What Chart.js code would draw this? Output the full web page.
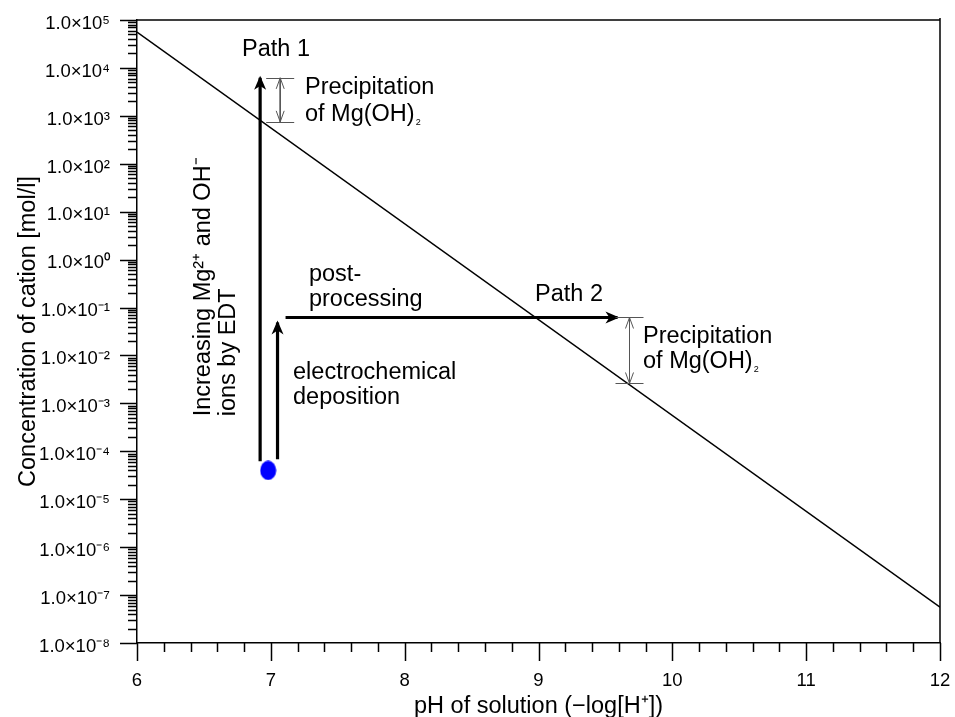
<!DOCTYPE html>
<html><head><meta charset="utf-8">
<script src="https://cdn.jsdelivr.net/npm/chart.js@4/dist/chart.umd.min.js"></script>
<style>html,body{margin:0;padding:0;background:#fff}#wrap{width:955px;height:717px}</style>
</head><body><div id="wrap"><canvas id="c" width="955" height="717"></canvas></div>
<script>
// ---- data ----
const xTickValues = [6, 7, 8, 9, 10, 11, 12];
const yTickExponents = [5, 4, 3, 2, 1, 0, -1, -2, -3, -4, -5, -6, -7, -8];
const solubilityPH = [6, 12];
const solubilityConc = [5.6e4, 5.6e-8];
const startPH = [6.98];
const startConc = [4.0e-5];
const path1PH = [6.92, 6.92];
const path1Conc = [6.2e-5, 6.2e3];
const depositionPH = [7.05, 7.05];
const depositionConc = [6.8e-5, 4.9e-2];
const postPH = [7.11, 9.59];
const postConc = [6.2e-2, 6.2e-2];
const precip1PH = [7.07, 7.07];
const precip1Conc = [6.2e3, 7.5e2];
const precip2PH = [9.68, 9.68];
const precip2Conc = [6.2e-2, 2.6e-3];

const FONT = "'Liberation Sans', Arial, sans-serif";
const SUP = {'0':'⁰','1':'¹','2':'²','3':'³','4':'⁴','5':'⁵','6':'⁶','7':'⁷','8':'⁸','9':'⁹','-':'⁻'};
function supStr(n){ return String(n).split('').map(c => SUP[c]).join(''); }
function pts(xs, ys){ return xs.map((x,i)=>({x:x, y:ys[i]})); }

// annotation texts (data coordinates: pH, log10 concentration)
const notes = [
  {t:'Path 1', x:6.785, ly:4.375},
  {t:'Precipitation', x:7.255, ly:3.583},
  {t:'of Mg(OH)', x:7.255, ly:3.021, sub:'2'},
  {t:'post-', x:7.285, ly:-0.3125},
  {t:'processing', x:7.285, ly:-0.833},
  {t:'electrochemical', x:7.166, ly:-2.354},
  {t:'deposition', x:7.166, ly:-2.875},
  {t:'Path 2', x:8.974, ly:-0.729},
  {t:'Precipitation', x:9.781, ly:-1.604},
  {t:'of Mg(OH)', x:9.781, ly:-2.125, sub:'2'},
  {t:'Increasing Mg²⁺ and OH⁻', x:6.50, ly:-3.27, rot:true},
  {t:'ions by EDT', x:6.687, ly:-3.27, rot:true}
];

// blue ellipse marker
const dot = document.createElement('canvas');
dot.width = 17; dot.height = 20;
{ const g = dot.getContext('2d'); g.fillStyle = '#0000ff'; g.beginPath(); g.ellipse(8.5, 10, 8, 9.7, 0, 0, Math.PI*2); g.fill(); }

const frameTicks = {
  id: 'frameTicks',
  afterDraw(chart){
    const ctx = chart.ctx, a = chart.chartArea, xs = chart.scales.x, ys = chart.scales.y;
    ctx.save();
    ctx.strokeStyle = '#000'; ctx.lineWidth = 1.5;
    ctx.beginPath();
    ctx.moveTo(a.left, a.top); ctx.lineTo(a.right, a.top);
    ctx.moveTo(a.right, a.top - 2); ctx.lineTo(a.right, a.bottom);
    ctx.stroke();
    ctx.beginPath();
    for (let e = -8; e <= 5; e++){
      const yp = Math.round(ys.getPixelForValue(Math.pow(10, e))) + 0.5;
      ctx.moveTo(a.left - 17, yp); ctx.lineTo(a.left, yp);
      if (e < 5){
        for (let k = 2; k <= 9; k++){
          const ym = Math.round(ys.getPixelForValue(k * Math.pow(10, e))) + 0.5;
          ctx.moveTo(a.left - 9, ym); ctx.lineTo(a.left, ym);
        }
      }
    }
    for (let i = 0; i <= 30; i++){
      const v = 6 + i * 0.2;
      const xp = Math.round(xs.getPixelForValue(v)) + 0.5;
      const len = (i % 5 === 0) ? 18 : 9;
      ctx.moveTo(xp, a.bottom); ctx.lineTo(xp, a.bottom + len);
    }
    ctx.stroke();
    ctx.restore();
  }
};

function arrowHead(ctx, x, y, dx, dy, len, hw){
  const L = Math.hypot(dx, dy); const ux = dx / L, uy = dy / L; const px = -uy, py = ux;
  const tx = x + ux * 2, ty = y + uy * 2;
  ctx.beginPath();
  ctx.moveTo(tx, ty);
  ctx.lineTo(tx - ux*len + px*hw, ty - uy*len + py*hw);
  ctx.lineTo(tx - ux*len*0.72, ty - uy*len*0.72);
  ctx.lineTo(tx - ux*len - px*hw, ty - uy*len - py*hw);
  ctx.closePath();
  ctx.fill();
}
function openHead(ctx, x, y, dx, dy, len, hw){
  const L = Math.hypot(dx, dy); const ux = dx / L, uy = dy / L; const px = -uy, py = ux;
  ctx.beginPath();
  ctx.moveTo(x - ux*len + px*hw, y - uy*len + py*hw);
  ctx.lineTo(x, y);
  ctx.lineTo(x - ux*len - px*hw, y - uy*len - py*hw);
  ctx.stroke();
}

const decorations = {
  id: 'decorations',
  afterDatasetsDraw(chart){
    const ctx = chart.ctx, xs = chart.scales.x, ys = chart.scales.y;
    ctx.save();
    chart.data.datasets.forEach((ds, i) => {
      const m = chart.getDatasetMeta(i);
      if (!ds.arrowKind) return;
      const p0 = m.data[0], p1 = m.data[m.data.length - 1];
      if (ds.arrowKind === 'solid'){
        ctx.fillStyle = '#000';
        arrowHead(ctx, p1.x, p1.y, p1.x - p0.x, p1.y - p0.y, 14, 6);
      } else if (ds.arrowKind === 'bracket'){
        ctx.strokeStyle = '#555'; ctx.lineWidth = 1;
        openHead(ctx, p0.x, p0.y, p0.x - p1.x, p0.y - p1.y, 11, 4);
        openHead(ctx, p1.x, p1.y, p1.x - p0.x, p1.y - p0.y, 11, 4);
        ctx.beginPath();
        [p0, p1].forEach(p => { const yy = Math.round(p.y) + 0.5; ctx.moveTo(p.x - 14, yy); ctx.lineTo(p.x + 14, yy); });
        ctx.stroke();
      }
    });
    ctx.fillStyle = '#000';
    ctx.textBaseline = 'middle';
    ctx.textAlign = 'left';
    notes.forEach(n => {
      const px = xs.getPixelForValue(n.x), py = ys.getPixelForValue(Math.pow(10, n.ly));
      ctx.font = '23.5px ' + FONT;
      if (n.rot){
        ctx.save(); ctx.translate(px, py); ctx.rotate(-Math.PI/2);
        ctx.fillText(n.t, 0, 0); ctx.restore();
      } else {
        ctx.fillText(n.t, px, py);
        if (n.sub){
          const w = ctx.measureText(n.t).width;
          ctx.font = '9px ' + FONT;
          ctx.fillText(n.sub, px + w + 1, py + 8);
        }
      }
    });
    ctx.restore();
  }
};

Chart.defaults.font.family = FONT;
Chart.defaults.color = '#000';

new Chart(document.getElementById('c'), {
  type: 'scatter',
  data: {
    datasets: [
      {data: pts(solubilityPH, solubilityConc), showLine: true, borderColor: '#000', borderWidth: 1.5, pointRadius: 0},
      {data: pts(path1PH, path1Conc), showLine: true, borderColor: '#000', borderWidth: 3.2, pointRadius: 0, arrowKind: 'solid'},
      {data: pts(depositionPH, depositionConc), showLine: true, borderColor: '#000', borderWidth: 3.2, pointRadius: 0, arrowKind: 'solid'},
      {data: pts(postPH, postConc), showLine: true, borderColor: '#000', borderWidth: 3.2, pointRadius: 0, arrowKind: 'solid'},
      {data: pts(precip1PH, precip1Conc), showLine: true, borderColor: '#555', borderWidth: 1, pointRadius: 0, arrowKind: 'bracket'},
      {data: pts(precip2PH, precip2Conc), showLine: true, borderColor: '#555', borderWidth: 1, pointRadius: 0, arrowKind: 'bracket'},
      {data: pts(startPH, startConc), pointStyle: dot, pointRadius: 10, backgroundColor: '#0000ff'}
    ]
  },
  options: {
    responsive: false,
    animation: false,
    devicePixelRatio: 1,
    events: [],
    layout: {padding: {top: 20, right: 15, bottom: 0, left: 0}},
    plugins: {legend: {display: false}, tooltip: {enabled: false}},
    scales: {
      x: {
        type: 'linear', min: 6, max: 12,
        afterBuildTicks: s => { s.ticks = xTickValues.map(v => ({value: v})); },
        afterFit: s => { s.height = 74; s.paddingLeft = 0; s.paddingRight = 0; },
        grid: {display: false},
        border: {display: true, color: '#000', width: 1.5},
        ticks: {font: {size: 18.5}, color: '#000', padding: 19, maxRotation: 0, autoSkip: false},
        title: {display: true, text: 'pH of solution (−log[H⁺])', font: {size: 23.5, lineHeight: 0.9}, color: '#000', padding: {top: 0, bottom: 0}}
      },
      y: {
        type: 'logarithmic', min: 1e-8, max: 1e5,
        afterBuildTicks: s => { s.ticks = yTickExponents.map(e => ({value: Math.pow(10, e)})); },
        afterFit: s => { s.width = 137; s.paddingTop = 0; s.paddingBottom = 0; },
        grid: {display: false},
        border: {display: true, color: '#000', width: 1.5},
        ticks: {
          font: {size: 18.5, lineHeight: 0.4}, color: '#000', padding: 19, autoSkip: false,
          callback: v => ['', '1.0×10' + supStr(Math.round(Math.log10(v)))]
        },
        title: {display: true, text: 'Concentration of cation [mol/l]', font: {size: 23.5}, color: '#000', padding: {top: 14, bottom: 0}}
      }
    }
  },
  plugins: [frameTicks, decorations]
});
</script>
</body></html>
